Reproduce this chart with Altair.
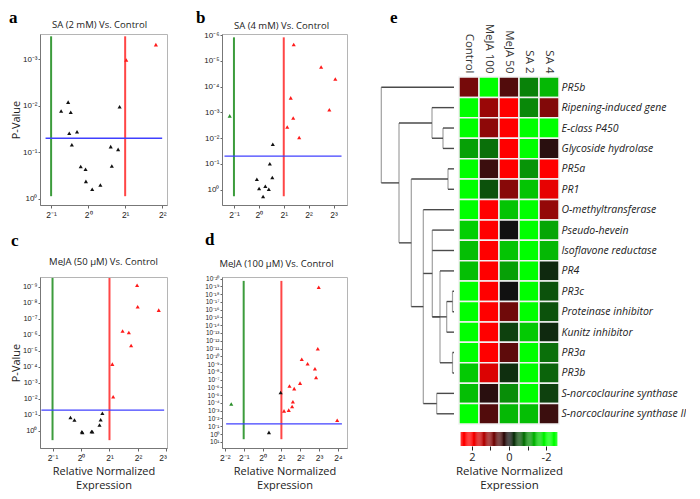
import json
import altair as alt
import numpy as np
import pandas as pd

# ---------------- volcano panels: x = log2(fold change), y = -log10(p) ----------------
a_x = [1.83, 1.03, -0.54, -0.73, -0.47, 0.85, -0.51, -0.30, -0.44, 0.61, 0.81, -0.20, -0.07, 0.64, -0.06, 0.33, 0.11]
a_y = [3.32, 2.99, 2.08, 1.89, 1.86, 1.98, 1.41, 1.44, 1.16, 1.12, 1.06, 0.69, 0.63, 0.70, 0.37, 0.29, 0.20]
b_x = [1.40, 2.50, 3.07, 1.28, 2.83, 1.38, 1.14, 1.62, -1.17, 0.56, 0.44, -0.08, 0.54, 0.26, 0.01, 0.40, 0.17]
b_y = [5.63, 4.76, 4.29, 3.56, 3.10, 2.78, 2.43, 2.02, 2.86, 1.76, 1.00, 0.40, 0.47, 0.13, 0.04, 0.01, -0.27]
c_x = [1.97, 1.99, 2.73, 1.46, 1.68, 1.76, 1.10, 1.13, 0.75, 0.69, 0.65, -0.37, -0.23, 0.03, 0.05, 0.37, 0.40]
c_y = [9.09, 7.75, 7.54, 6.24, 6.14, 5.33, 4.17, 2.13, 1.10, 0.70, 0.37, 0.83, 0.68, -0.06, -0.10, -0.04, -0.06]
d_x = [2.98, 2.93, 2.08, 2.39, 2.78, 2.84, 1.99, 1.43, 1.68, 1.61, 1.57, 1.39, 1.14, 3.96, 0.96, 0.34, -1.66]
d_y = [18.87, 10.97, 9.62, 9.03, 8.40, 7.27, 6.55, 6.18, 5.84, 4.16, 3.53, 3.07, 2.98, 1.76, 5.34, 0.21, 3.87]

titles = ["SA (2 mM) Vs. Control", "SA (4 mM) Vs. Control",
          "MeJA (50 µM) Vs. Control", "MeJA (100 µM) Vs. Control"]
a_xticks, a_yticks = [-1, 0, 1, 2], [0, 1, 2, 3]
b_xticks, b_yticks = [-1, 0, 1, 2, 3], [0, 1, 2, 3, 4, 5, 6]
c_xticks, c_yticks = [-1, 0, 1, 2, 3], list(range(0, 10))
d_xticks, d_yticks = [-2, -1, 0, 1, 2, 3, 4], list(range(-1, 21))

FC_UP, FC_DOWN, P_CUT = 1.0, -1.0, 1.3   # 2-fold, p = 0.05

# ---------------- heatmap ----------------
genes = ["PR5b", "Ripening-induced gene", "E-class P450", "Glycoside hydrolase", "PR5a", "PR1",
         "O-methyltransferase", "Pseudo-hevein", "Isoflavone reductase", "PR4", "PR3c",
         "Proteinase inhibitor", "Kunitz inhibitor", "PR3a", "PR3b",
         "S-norcoclaurine synthase", "S-norcoclaurine synthase II"]
conditions = ["Control", "MeJA 100", "MeJA 50", "SA 2", "SA 4"]
control_vals = [0.85, -2.2, -2.2, -1.2, -2.2, -2.2, -2.2, -1.6, -1.45, -1.45, -2.2, -2.2, -2.2, -2.2, -1.55, -1.45, -2.2]
meja100_vals = [-2.2, 1.15, 1.05, -0.8, 0.35, -0.55, 2.2, 2.2, 2.2, 2.2, 2.2, 2.2, 2.2, 2.2, 1.7, 0.2, 0.55]
meja50_vals = [0.55, 2.2, 2.2, 2.2, 2.2, 1.0, -1.5, 0.0, -1.5, -1.2, 0.0, 0.8, -0.4, 0.65, -0.25, -1.05, -1.4]
sa2_vals = [-0.95, -1.0, -2.2, -2.1, -1.1, -1.5, -2.2, -2.2, -2.2, -2.2, -2.2, -2.2, -1.55, -2.2, -2.2, -2.2, -1.45]
sa4_vals = [-1.4, 0.95, -2.2, 0.2, 2.2, 1.8, 1.1, -1.25, -1.4, -0.2, -0.55, -0.55, -0.2, -0.8, -0.7, -0.4, 0.35]

# dendrogram merges: (node, children, linkage height)
dendro_links = [
    ("n1", ["E-class P450", "Glycoside hydrolase"], 11.0),
    ("n2", ["Ripening-induced gene", "n1"], 22.0),
    ("n3", ["PR5a", "PR1"], 6.0),
    ("n4", ["PR3c", "Proteinase inhibitor"], 1.5),
    ("n5", ["n4", "Kunitz inhibitor"], 7.3),
    ("n6", ["PR3a", "PR3b"], 1.5),
    ("n7", ["PR4", "n6"], 14.0),
    ("n8", ["Pseudo-hevein", "Isoflavone reductase", "n5", "n7"], 21.7),
    ("n9", ["S-norcoclaurine synthase", "S-norcoclaurine synthase II"], 17.3),
    ("n10", ["O-methyltransferase", "n8", "n9"], 30.7),
    ("n11", ["n3", "n10"], 42.7),
    ("n12", ["n2", "n11"], 55.0),
    ("n13", ["PR5b", "n12"], 72.7),
]
colorbar_ticks = [2, 1, 0, -1, -2]
colorbar_limit = 2.58

# ---------------- styling ----------------
W_L, W_R, H = 127, 125, 171
GREEN_LINE, RED_LINE, BLUE_LINE = "#3c9c3c", "#ff4646", "#4040ff"
PT_COLORS = ["#ff1a1a", "#2a8f2a", "#111111"]
TICK_FONT = "Liberation Sans"
NO_FRAME = alt.ViewBackground(stroke="transparent", strokeWidth=0)

SUP = "['⁰','¹','²','³','⁴','⁵','⁶','⁷','⁸','⁹']"


def sup(v):
    return (f"(({v}) < 0 ? '⁻' : '') + (abs({v}) >= 10 ? {SUP}[floor(abs({v}) / 10)] : '') "
            f"+ {SUP}[abs({v}) % 10]")


Y_EXPR = "'10' + " + sup("-datum.value")
X_EXPR = "'2' + " + sup("datum.value")


def volcano(xs, ys, title, letter, xdom, ydom, xticks, yticks, vspan, hspan,
            ytitle, xtitle, tpos, lpos, ylab, width):
    df = pd.DataFrame({"lfc": xs, "nlp": ys})
    up = (df.lfc > FC_UP) & (df.nlp > P_CUT)
    dn = (df.lfc < FC_DOWN) & (df.nlp > P_CUT)
    df["grp"] = np.where(up, "up", np.where(dn, "down", "ns"))
    xsc = alt.Scale(domain=xdom, nice=False, zero=False)
    ysc = alt.Scale(domain=ydom, nice=False, zero=False)
    xax = alt.Axis(values=xticks, labelExpr=X_EXPR, title=xtitle, grid=False, domain=True,
                   labelFont=TICK_FONT, labelFontSize=8.5, labelColor="#222",
                   tickSize=3, tickColor="#666", domainColor="#777", labelPadding=2,
                   titleFont="Open Sans", titleFontSize=11, titleFontWeight="normal",
                   titleColor="#222", titlePadding=4, titleLineHeight=14, labelOverlap=False)
    yax = alt.Axis(values=yticks, labelExpr=Y_EXPR, title=ytitle, grid=False, domain=True,
                   labelFont=TICK_FONT, labelFontSize=ylab, labelColor="#222",
                   tickSize=2, tickColor="#666", domainColor="#777", labelPadding=1,
                   titleFont="Open Sans", titleFontSize=11, titleFontWeight="normal",
                   titleColor="#222", titlePadding=1, labelOverlap=False)
    X = alt.X("lfc:Q", scale=xsc, axis=xax)
    Y = alt.Y("nlp:Q", scale=ysc, axis=yax)
    vdf = pd.DataFrame({"lfc": [FC_DOWN, FC_UP], "nlp": [vspan[0]] * 2,
                        "nlp2": [vspan[1]] * 2, "side": ["down", "up"]})
    vlines = alt.Chart(vdf).mark_rule(strokeWidth=2).encode(
        X, Y, y2="nlp2:Q",
        stroke=alt.Stroke("side:N", scale=alt.Scale(domain=["down", "up"],
                                                    range=[GREEN_LINE, RED_LINE]), legend=None))
    hdf = pd.DataFrame({"lfc": [hspan[0]], "lfc2": [hspan[1]], "nlp": [P_CUT]})
    hline = alt.Chart(hdf).mark_rule(strokeWidth=1.3, color=BLUE_LINE).encode(X, Y, x2="lfc2:Q")
    pts = alt.Chart(df).mark_point(shape="triangle-up", filled=True, size=17, opacity=1).encode(
        X, Y, color=alt.Color("grp:N", scale=alt.Scale(domain=["up", "down", "ns"], range=PT_COLORS),
                              legend=None))
    lab = alt.Chart(pd.DataFrame({"t": [letter]})).mark_text(
        font="Liberation Serif", fontWeight="bold", fontSize=17, align="left",
        baseline="alphabetic", color="#000").encode(text="t:N", x=alt.value(lpos[0]), y=alt.value(lpos[1]))
    ttl = alt.Chart(pd.DataFrame({"t": [title]})).mark_text(
        font="Open Sans", fontSize=9.5, align="center", baseline="bottom", color="#222").encode(
        text="t:N", x=alt.value(width / 2 + tpos[0]), y=alt.value(tpos[1]))
    return alt.layer(vlines, hline, pts, lab, ttl).properties(
        width=width, height=H, view=alt.ViewBackground(stroke="#b5b5b5", strokeWidth=1))


XT = ["Relative Normalized", "Expression"]
pa = volcano(a_x, a_y, titles[0], "a", [-1.30, 2.13], [-0.14, 3.55], a_xticks, a_yticks,
             (0.05, 3.5), (-1.15, 2.0), "P-Value", None, (-4, -4), (-31, -11), 8, W_L)
pb = volcano(b_x, b_y, titles[1], "b", [-1.48, 3.54], [-0.6, 6.04], b_xticks, b_yticks,
             (-0.26, 5.91), (-1.38, 3.32), None, None, (-3, -3), (-26, -11), 8, W_R)
pc = volcano(c_x, c_y, titles[2], "c", [-1.44, 3.02], [-1.07, 9.61], c_xticks, c_yticks,
             (-0.58, 9.55), (-1.39, 2.92), "P-Value", XT, (0, -10), (-29, -31), 7.5, W_L)
pd_ = volcano(d_x, d_y, titles[3], "d", [-2.15, 4.48], [-1.8, 20.2], d_xticks, d_yticks,
              (-0.67, 19.7), (-1.93, 4.21), None, XT, (-8, -8), (-17, -32), 6.5, W_R)

# ---------------- shared row geometry for dendrogram + heatmap ----------------
HEAT_H, TOP_GAP = 347, 43
row_px = HEAT_H / len(genes)
gap_rows = TOP_GAP / row_px
TOTAL_H = HEAT_H + TOP_GAP
row_scale = alt.Scale(domain=[-0.5 - gap_rows, len(genes) - 0.5], reverse=True, nice=False, zero=False)

# ---------------- dendrogram (each link = a 2-point line) ----------------
pos = {g: float(i) for i, g in enumerate(genes)}
hgt = {g: 0.0 for g in genes}
pts_rows = []
seg_id = 0
for name, kids, h in dendro_links:
    ys = [pos[k] for k in kids]
    pts_rows += [{"seg": seg_id, "kind": "v", "o": 0, "dx": h, "dy": min(ys)},
                 {"seg": seg_id, "kind": "v", "o": 1, "dx": h, "dy": max(ys)}]
    seg_id += 1
    for k in kids:
        pts_rows += [{"seg": seg_id, "kind": "h", "o": 0, "dx": h, "dy": pos[k]},
                     {"seg": seg_id, "kind": "h", "o": 1, "dx": hgt[k], "dy": pos[k]}]
        seg_id += 1
    pos[name] = (min(ys) + max(ys)) / 2
    hgt[name] = h
dendro_df = pd.DataFrame(pts_rows)
dscale = alt.Scale(domain=[0, 73], reverse=True, nice=False, zero=False)
d_lines = alt.Chart(dendro_df).mark_line(interpolate="linear").encode(
    x=alt.X("dx:Q", scale=dscale, axis=None),
    y=alt.Y("dy:Q", scale=row_scale, axis=None),
    detail="seg:N",
    order="o:Q",
    color=alt.Color("kind:N", scale=alt.Scale(domain=["h", "v"], range=["#4a4a4a", "#a0a0a0"]), legend=None),
    size=alt.Size("kind:N", scale=alt.Scale(domain=["h", "v"], range=[1.4, 1.2]), legend=None),
)
e_lab = alt.Chart(pd.DataFrame({"t": ["e"]})).mark_text(
    font="Liberation Serif", fontWeight="bold", fontSize=17, align="left",
    baseline="alphabetic", color="#000").encode(text="t:N", x=alt.value(9), y=alt.value(TOP_GAP - 54))
dendro = alt.layer(d_lines, e_lab).properties(width=73, height=TOTAL_H, view=NO_FRAME)

# ---------------- heatmap + colour bar (one layered view) ----------------
cols = [control_vals, meja100_vals, meja50_vals, sa2_vals, sa4_vals]
heat_df = pd.DataFrame([{"gene": g, "cond": c, "val": cols[j][i], "lo": i - 0.5, "hi": i + 0.5}
                        for j, c in enumerate(conditions) for i, g in enumerate(genes)])
cscale = alt.Scale(domain=[-2, 0, 2], range=["#00ff00", "#111111", "#ff0000"], clamp=True,
                   interpolate="rgb")
GENE_EXPR = json.dumps(genes) + "[datum.value]"
heat = alt.Chart(heat_df).mark_rect(stroke="#f2f2f2", strokeWidth=1.5).encode(
    x=alt.X("cond:N", sort=conditions, scale=alt.Scale(paddingInner=0, paddingOuter=0),
            axis=alt.Axis(orient="top", labelAngle=90, labelAlign="right", labelBaseline="middle",
                          title=None, ticks=False, domain=False, labelFont="Open Sans",
                          labelFontSize=11.5, labelColor="#333", labelPadding=4, offset=-TOP_GAP)),
    y=alt.Y("lo:Q", scale=row_scale,
            axis=alt.Axis(orient="right", values=list(range(len(genes))), labelExpr=GENE_EXPR,
                          title=None, ticks=False, domain=False, grid=False, labelFont="Open Sans",
                          labelFontStyle="italic", labelFontSize=10.5, labelColor="#222",
                          labelPadding=2, labelLimit=300, labelOverlap=False)),
    y2="hi:Q",
    color=alt.Color("val:Q", scale=cscale, legend=None),
)

cb_v = np.linspace(-colorbar_limit, colorbar_limit, 87)
step = cb_v[1] - cb_v[0]
cb_df = pd.DataFrame({"v": cb_v, "blo": cb_v - step / 2, "bhi": cb_v + step / 2})
cbar = alt.Chart(cb_df).mark_rect().encode(
    x=alt.X("blo:Q", scale=alt.Scale(domain=[-2.7, 2.7], reverse=True, nice=False, zero=False),
            axis=alt.Axis(orient="bottom", offset=22, values=colorbar_ticks, domain=False, grid=False,
                          tickSize=4, tickColor="#222",
                          labelExpr="datum.value == 0 ? '0' : (datum.value == 2 ? '2' : "
                                    "(datum.value == -2 ? '-2' : ''))",
                          labelFont="Open Sans", labelFontSize=11, labelColor="#222", labelPadding=1,
                          title=XT, titleFont="Open Sans", titleFontSize=11.5, titleFontWeight="normal",
                          titleColor="#222", titlePadding=3, titleLineHeight=14)),
    x2="bhi:Q",
    y=alt.value(TOTAL_H + 8), y2=alt.value(TOTAL_H + 22),
    color=alt.Color("v:Q", scale=cscale, legend=None),
)
heatmap = alt.layer(heat, cbar).resolve_scale(x="independent").properties(
    width=100, height=TOTAL_H, view=NO_FRAME)

row1 = alt.hconcat(pa, pb, spacing=55, bounds="flush")
row2 = alt.hconcat(pc, pd_, spacing=55, bounds="flush")
left = alt.vconcat(row1, row2, spacing=11)
right = alt.hconcat(dendro, heatmap, spacing=5, bounds="flush")

chart = alt.hconcat(left, right, spacing=30).properties(
    padding=0, background="white"
).configure_view(strokeWidth=0, stroke="transparent").configure_axis(domain=False).configure(font="Open Sans")

chart.save("out.html", embed_options={"renderer": "svg", "actions": False})
